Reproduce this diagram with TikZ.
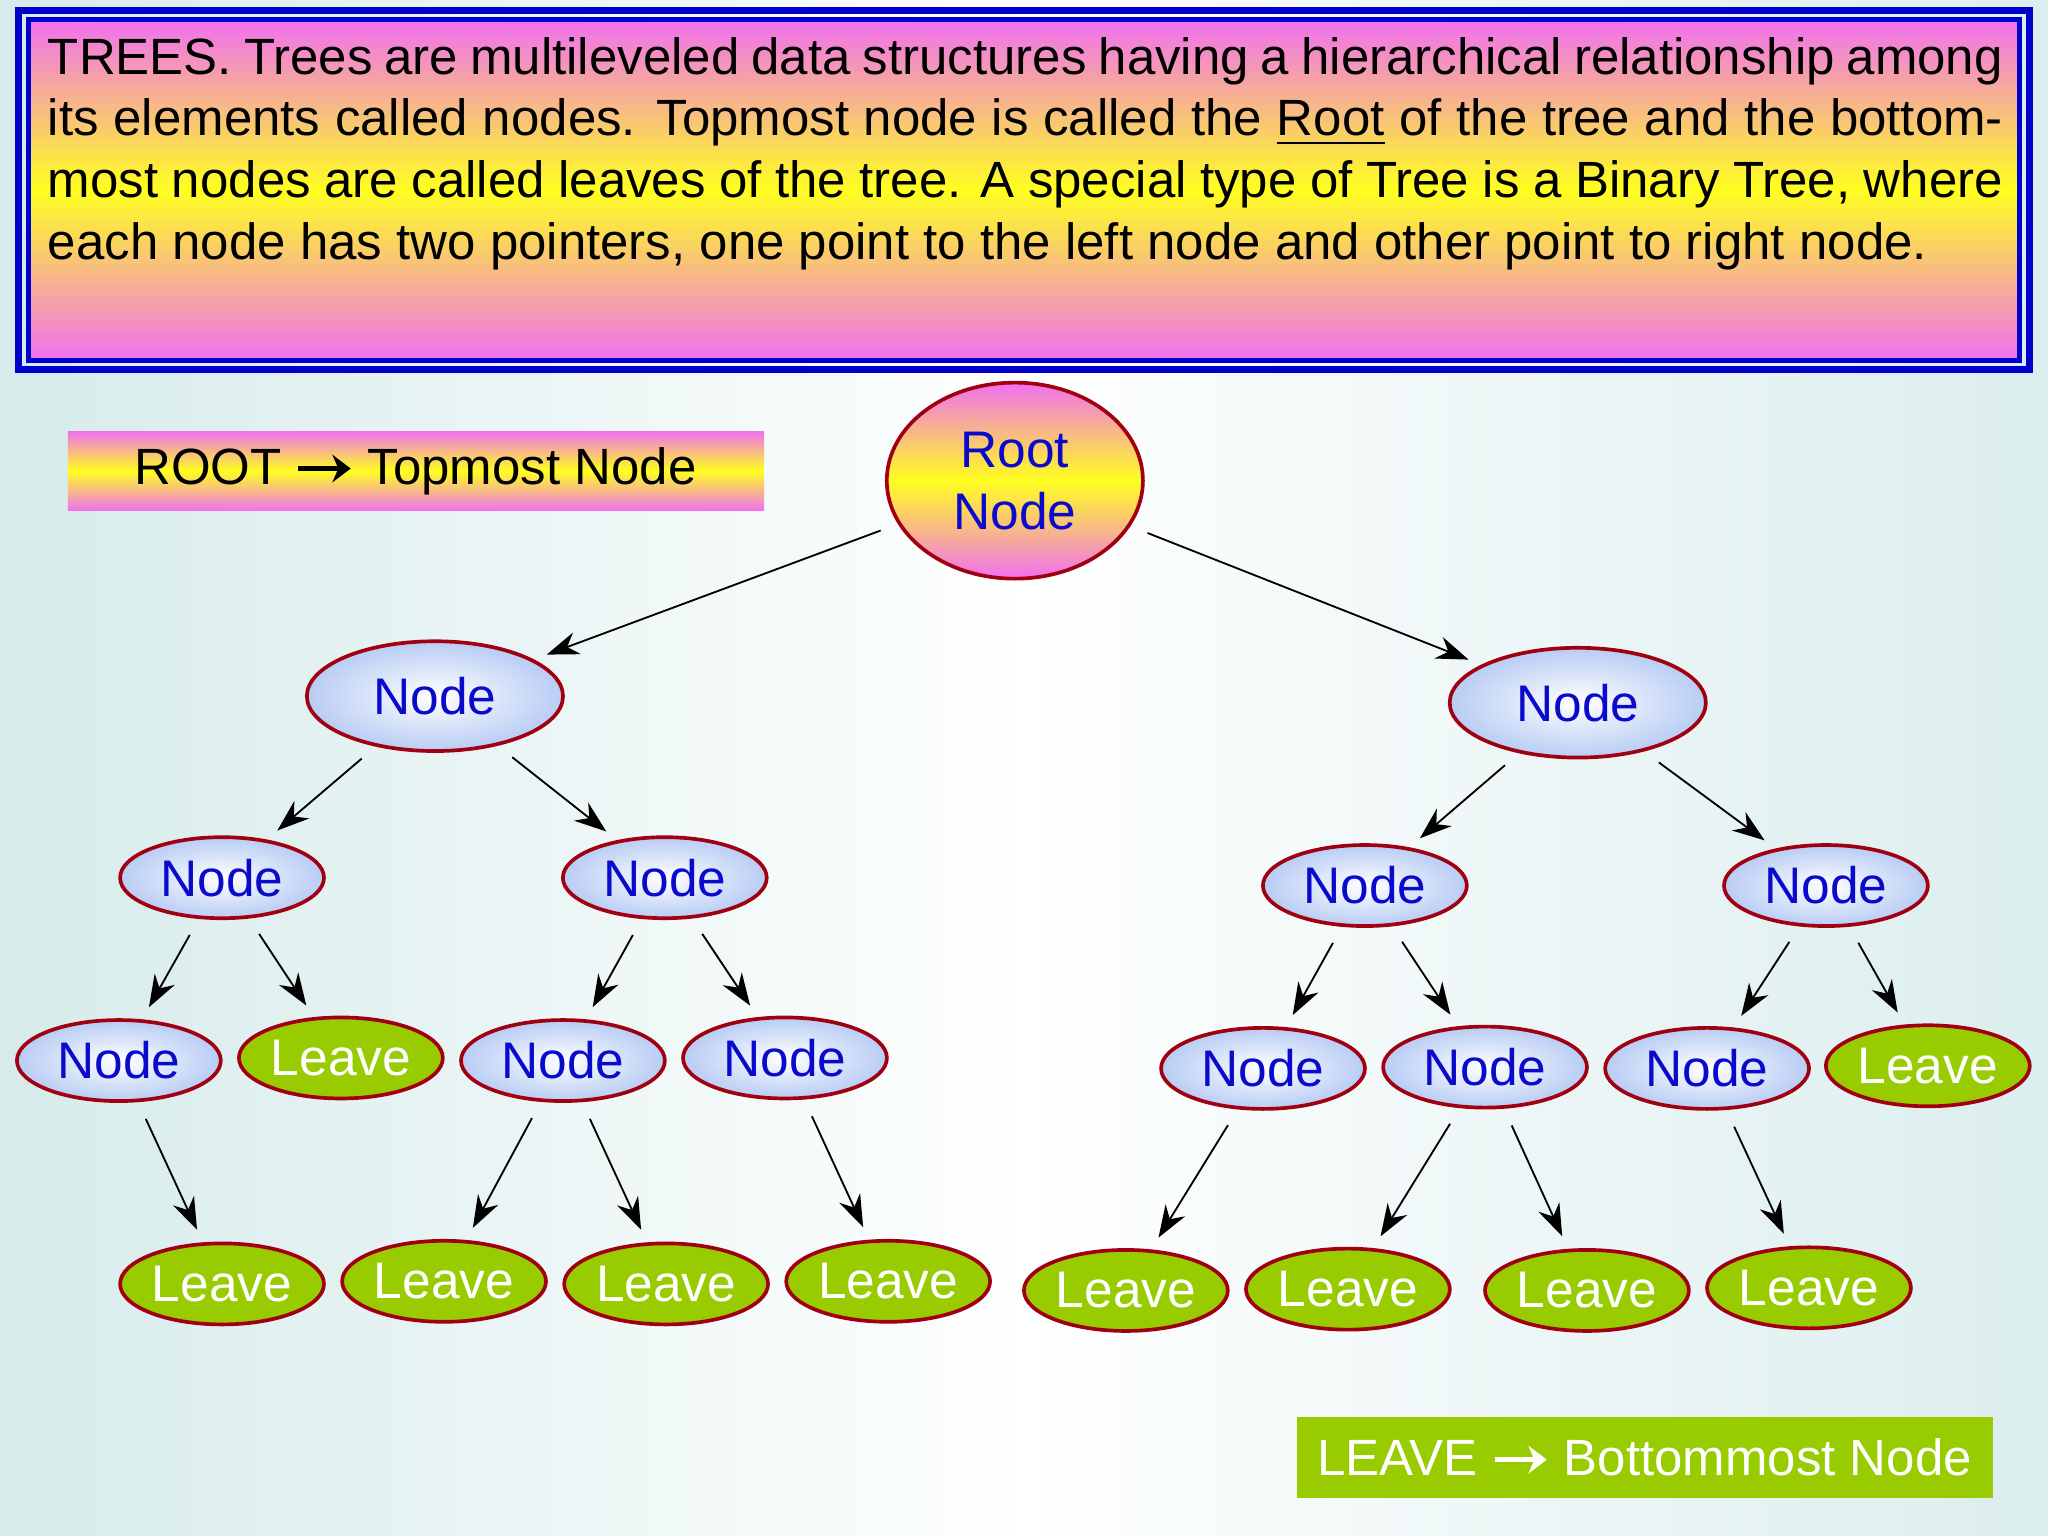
\documentclass[tikz,border=0pt]{standalone}
\usepackage{fontspec}
\setmainfont{Liberation Sans}
\usetikzlibrary{shapes.geometric,arrows.meta}
\definecolor{nb}{HTML}{0A0ACC}
\definecolor{br}{HTML}{A00010}
\definecolor{lg}{HTML}{99CC00}
\definecolor{pk}{HTML}{F070F0}
\definecolor{yl}{HTML}{FFFF20}
\definecolor{lb}{HTML}{B8CCF4}
\newcommand{\rarr}{\tikz[baseline=-0.6ex]\draw[-{Stealth[length=4pt,width=6pt]},line width=1.2pt,x=1cm,y=1cm] (0,0) -- (0.4,0);}
\begin{document}
\begin{tikzpicture}[x=0.01cm,y=-0.01cm,
  nd/.style={ellipse,draw=br,thick,inner color=white,outer color=lb,text=nb,minimum width=1.56cm,minimum height=0.62cm,inner sep=0pt,font=\fontsize{11.2}{12}\selectfont},
  bn/.style={nd,minimum width=1.96cm,minimum height=0.84cm},
  lv/.style={ellipse,draw=br,thick,fill=lg,text=white,minimum width=1.56cm,minimum height=0.62cm,inner sep=0pt,font=\fontsize{11.2}{12}\selectfont},
  ar/.style={-{Stealth[length=7pt,width=5pt]},thin,shorten <=4pt,shorten >=3pt}]
\useasboundingbox (0,0) rectangle (1568,1176);
\shade[left color={rgb,255:red,175;green,215;blue,215},right color={rgb,255:red,185;green,220;blue,222},middle color=white] (0,0) rectangle (1568,1176);
\shade[top color=white,bottom color=white,middle color=white,opacity=0.5] (0,0) rectangle (1568,1176);
% top box
\shade[top color=pk,bottom color=pk,middle color=yl] (22,15) rectangle (1546,276);
\draw[blue!80!black,line width=1.5pt] (14,8) rectangle (1554,283);
\draw[blue!80!black,line width=1pt] (22,15) rectangle (1546,276);
\node[anchor=north west,inner sep=0pt,align=justify,text width=14.96cm,font=\fontsize{11.1}{13.4}\selectfont] (txt) at (36,28)
{\hyphenpenalty=10000 TREES. Trees are multileveled data structures having a hierarchical relationship among its elements called nodes. Topmost node is called the \underline{Root} of the tree and the bottommost nodes are called leaves of the tree. A special type of Tree is a Binary Tree, where each node has two pointers, one point to the left node and other point to right node.};
% legend boxes
\shade[top color=pk,bottom color=pk,middle color=yl] (52,330) rectangle (585,391);
\node[font=\fontsize{11.1}{12}\selectfont] (rl) at (318,361) {ROOT \rarr{} Topmost Node};
\fill[lg] (993,1085) rectangle (1526,1147);
\node[text=white,font=\fontsize{11.1}{12}\selectfont] (ll) at (1259,1116) {LEAVE \textcolor{white}{\rarr} Bottommost Node};
% nodes
\node[ellipse,draw=br,thick,top color=pk,bottom color=pk,middle color=yl,text=nb,minimum width=1.96cm,minimum height=1.5cm,inner sep=0pt,align=center,font=\fontsize{11.2}{13.5}\selectfont] (r) at (777,368) {Root\\Node};
\node[bn] (a) at (333,533) {Node};
\node[bn] (b) at (1208,538) {Node};
\node[nd] (a1) at (170,672) {Node};
\node[nd] (a2) at (509,672) {Node};
\node[nd] (b1) at (1045,678) {Node};
\node[nd] (b2) at (1398,678) {Node};
\node[nd] (c1) at (91,812) {Node};
\node[lv] (c2) at (261,810) {Leave};
\node[nd] (c3) at (431,812) {Node};
\node[nd] (c4) at (601,810) {Node};
\node[nd] (c5) at (967,818) {Node};
\node[nd] (c6) at (1137,817) {Node};
\node[nd] (c7) at (1307,818) {Node};
\node[lv] (c8) at (1476,816) {Leave};
\node[lv] (d1) at (170,983) {Leave};
\node[lv] (d2) at (340,981) {Leave};
\node[lv] (d3) at (510,983) {Leave};
\node[lv] (d4) at (680,981) {Leave};
\node[lv] (d5) at (862,988) {Leave};
\node[lv] (d6) at (1032,987) {Leave};
\node[lv] (d7) at (1215,988) {Leave};
\node[lv] (d8) at (1385,986) {Leave};
\foreach \p/\c in {r/a,r/b,a/a1,a/a2,b/b1,b/b2,a1/c1,a1/c2,a2/c3,a2/c4,b1/c5,b1/c6,b2/c7,b2/c8,c1/d1,c3/d2,c3/d3,c4/d4,c5/d5,c6/d6,c6/d7,c7/d8}
  \draw[ar] (\p) -- (\c);
\end{tikzpicture}
\end{document}
